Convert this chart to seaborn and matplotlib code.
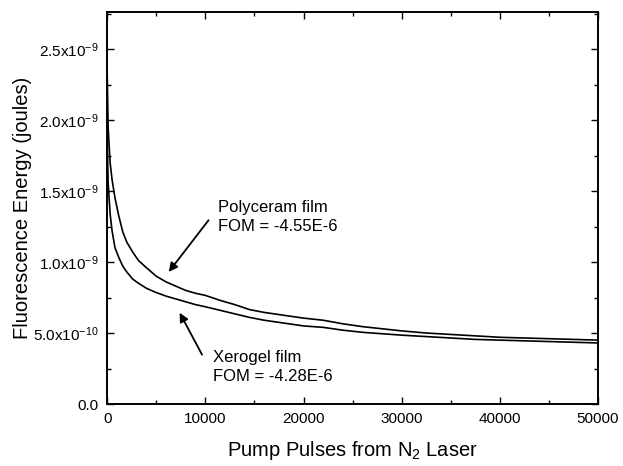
import math
import matplotlib
matplotlib.use("Agg")
import matplotlib.pyplot as plt
from matplotlib.ticker import MultipleLocator, FuncFormatter
import seaborn as sns
import pandas as pd

# Pump pulse counts at which the fluorescence energy was read
pulses = [0, 100, 300, 500, 800, 1200, 1600, 2000, 2600, 3200, 4000, 5000,
          6000, 7000, 8000, 9000, 10000, 11500, 13000, 14500, 16000, 18000,
          20000, 22000, 24000, 26000, 28000, 30000, 32500, 35000, 37500,
          40000, 42500, 45000, 47500, 50000]

# Fluorescence energy (units of 1e-9 J) for the two films
polyceram = [2.34, 1.95, 1.70, 1.58, 1.45, 1.32, 1.21, 1.14, 1.07, 1.01, 0.96,
             0.90, 0.86, 0.83, 0.80, 0.78, 0.765, 0.73, 0.70, 0.665, 0.645,
             0.625, 0.605, 0.59, 0.565, 0.545, 0.53, 0.515, 0.50, 0.49, 0.48,
             0.47, 0.465, 0.46, 0.455, 0.45]
xerogel = [1.90, 1.56, 1.34, 1.22, 1.10, 1.03, 0.97, 0.93, 0.88, 0.85, 0.815,
           0.785, 0.76, 0.74, 0.72, 0.70, 0.685, 0.66, 0.635, 0.61, 0.59,
           0.57, 0.55, 0.54, 0.52, 0.505, 0.495, 0.485, 0.475, 0.465, 0.455,
           0.45, 0.445, 0.44, 0.435, 0.43]
scale = 1e-9

df = pd.DataFrame({
    "pulses": pulses * 2,
    "energy": [v * scale for v in polyceram] + [v * scale for v in xerogel],
    "film": ["Polyceram"] * len(pulses) + ["Xerogel"] * len(pulses),
})

sns.set_style("ticks")
plt.rcParams["font.family"] = ["Liberation Sans", "DejaVu Sans"]
plt.rcParams["mathtext.fontset"] = "custom"
plt.rcParams["mathtext.rm"] = "Liberation Sans"
plt.rcParams["mathtext.it"] = "Liberation Sans"
plt.rcParams["text.color"] = "black"
plt.rcParams["axes.labelcolor"] = "black"
plt.rcParams["xtick.color"] = "black"
plt.rcParams["ytick.color"] = "black"

fig = plt.figure(figsize=(6.23, 4.66), dpi=100)
ax = fig.add_axes([0.172, 0.133, 0.788, 0.841])

sns.lineplot(data=df, x="pulses", y="energy", units="film", estimator=None,
             color="black", linewidth=1.2, ax=ax, legend=False)

ax.set_xlim(0, 50000)
ax.set_ylim(0, 2.76e-9)

ax.xaxis.set_major_locator(MultipleLocator(10000))
ax.xaxis.set_minor_locator(MultipleLocator(5000))
ax.yaxis.set_major_locator(MultipleLocator(0.5e-9))
ax.yaxis.set_minor_locator(MultipleLocator(0.25e-9))


def fmt_y(v, pos):
    if abs(v) < 1e-15:
        return "0.0"
    exp = int(math.floor(math.log10(abs(v)) + 1e-9))
    mant = v / 10 ** exp
    return r"%.1fx10$^{%d}$" % (mant, exp)


ax.yaxis.set_major_formatter(FuncFormatter(fmt_y))
ax.xaxis.set_major_formatter(FuncFormatter(lambda v, p: "%d" % v))

ax.tick_params(which="both", direction="in", top=True, right=True,
               labelsize=11, width=1.0, pad=6)
ax.tick_params(which="major", length=5)
ax.tick_params(which="minor", length=3)
for s in ax.spines.values():
    s.set_linewidth(1.4)
    s.set_color("black")

ax.set_xlabel(r"Pump Pulses from N$_2$ Laser", fontsize=14.5, labelpad=9)
ax.set_ylabel("Fluorescence Energy (joules)", fontsize=14.5, labelpad=1)

ax.annotate("", xy=(6100, 0.915e-9), xytext=(10500, 1.31e-9),
            arrowprops=dict(arrowstyle="-|>", color="black", lw=1.3,
                            mutation_scale=13))
ax.text(11300, 1.44e-9, "Polyceram film\nFOM = -4.55E-6", fontsize=12,
        va="top", ha="left", linespacing=1.35)

ax.annotate("", xy=(7250, 0.66e-9), xytext=(9800, 0.33e-9),
            arrowprops=dict(arrowstyle="-|>", color="black", lw=1.3,
                            mutation_scale=13))
ax.text(10800, 0.38e-9, "Xerogel film\nFOM = -4.28E-6", fontsize=12,
        va="top", ha="left", linespacing=1.35)

fig.savefig("out.png", dpi=100)
